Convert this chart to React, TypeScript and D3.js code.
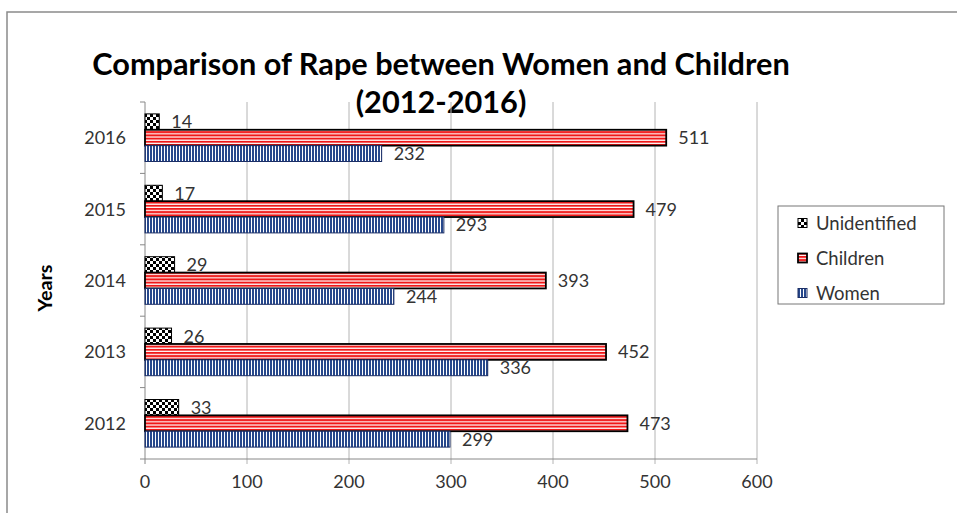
import React from "react";
import * as d3 from "d3";

const years = ["2016", "2015", "2014", "2013", "2012"];
const seriesNames = ["Unidentified", "Children", "Women"];
const unidentified = [14, 17, 29, 26, 33];
const children = [511, 479, 393, 452, 473];
const women = [232, 293, 244, 336, 299];
const xTicks = [0, 100, 200, 300, 400, 500, 600];
const legendOrder = ["Unidentified", "Children", "Women"];

const W = 957;
const H = 513;
const FONT = "Lato, 'Open Sans', sans-serif";

export default function App() {
  const left = 145;
  const right = 757;
  const top = 102;
  const bottom = 459;
  const x = d3.scaleLinear().domain([0, 600]).range([left, right]);
  const y = d3.scaleBand<string>().domain(years).range([top, bottom]).padding(0);
  const inner = d3
    .scaleBand<string>()
    .domain(seriesNames)
    .range([0, y.bandwidth()])
    .paddingInner(0)
    .paddingOuter(0.75);

  const values: Record<string, number[]> = {
    Unidentified: unidentified,
    Children: children,
    Women: women,
  };
  const fills: Record<string, string> = {
    Unidentified: "url(#checker)",
    Children: "url(#redstripes)",
    Women: "url(#bluestripes)",
  };
  const strokes: Record<string, string> = {
    Unidentified: "#000",
    Children: "#000",
    Women: "#1c2f66",
  };
  const strokeW: Record<string, number> = {
    Unidentified: 1,
    Children: 1.8,
    Women: 1,
  };

  const bands = years.map((yr) => y(yr) as number);
  const boundaries = [...bands, bottom];

  return (
    <svg
      width={W}
      height={H}
      style={{ position: "absolute", left: 0, top: 0, background: "#fff" }}
      fontFamily={FONT}
    >
      <defs>
        <pattern id="checker" width={6} height={6} patternUnits="userSpaceOnUse">
          <rect width={6} height={6} fill="#fff" />
          <rect x={0} y={0} width={3} height={3} fill="#000" />
          <rect x={3} y={3} width={3} height={3} fill="#000" />
        </pattern>
        <pattern id="redstripes" width={4} height={3.2} patternUnits="userSpaceOnUse">
          <rect width={4} height={3.2} fill="#fff" />
          <rect x={0} y={0} width={4} height={2} fill="#f01818" />
        </pattern>
        <pattern id="bluestripes" width={3} height={4} patternUnits="userSpaceOnUse">
          <rect width={3} height={4} fill="#fff" />
          <rect x={0} y={0} width={2} height={4} fill="#27488c" />
        </pattern>
      </defs>

      {/* outer border */}
      <rect x={7} y={12} width={W} height={H} fill="none" stroke="#8a8a8a" strokeWidth={1.5} />

      {/* title */}
      <text x={441} y={75} textAnchor="middle" fontWeight="bold" fontSize={30.7} fill="#000">
        Comparison of Rape between Women and Children
      </text>
      <text x={441} y={113} textAnchor="middle" fontWeight="bold" fontSize={30.7} fill="#000">
        (2012-2016)
      </text>

      {/* gridlines */}
      {xTicks.slice(1).map((t) => (
        <line key={"g" + t} x1={x(t)} x2={x(t)} y1={top} y2={bottom + 5} stroke="#b4b4b4" strokeWidth={1} />
      ))}
      <line x1={left} x2={left} y1={bottom} y2={bottom + 5} stroke="#888" />

      {/* axes */}
      <line x1={left} x2={right} y1={bottom} y2={bottom} stroke="#888" strokeWidth={1} />
      <line x1={left} x2={left} y1={top} y2={bottom} stroke="#888" strokeWidth={1} />
      {boundaries.map((b, i) => (
        <line key={"yt" + i} x1={left - 5} x2={left} y1={b} y2={b} stroke="#888" />
      ))}

      {/* x tick labels */}
      {xTicks.map((t) => (
        <text key={"xt" + t} x={x(t)} y={488} textAnchor="middle" fontSize={18} fill="#333">
          {t}
        </text>
      ))}

      {/* y tick labels */}
      {years.map((yr) => (
        <text
          key={"yl" + yr}
          x={126}
          y={(y(yr) as number) + y.bandwidth() / 2 + 6.5}
          textAnchor="end"
          fontSize={18}
          fill="#333"
        >
          {yr}
        </text>
      ))}

      {/* y axis title */}
      <text
        transform={`translate(52, 288) rotate(-90)`}
        textAnchor="middle"
        fontWeight="bold"
        fontSize={19}
        textLength={47}
        lengthAdjust="spacingAndGlyphs"
        fill="#000"
      >
        Years
      </text>

      {/* bars */}
      {seriesNames.map((s) =>
        years.map((yr, i) => {
          const v = values[s][i];
          const by = (y(yr) as number) + (inner(s) as number);
          const bh = inner.bandwidth();
          return (
            <g key={s + yr}>
              <rect
                x={x(0)}
                y={by}
                width={x(v) - x(0)}
                height={bh}
                fill={fills[s]}
                stroke={strokes[s]}
                strokeWidth={strokeW[s]}
              />
              <text x={x(v) + 12} y={by + bh / 2 + 6.5} fontSize={18} fill="#333">
                {v}
              </text>
            </g>
          );
        })
      )}

      {/* legend */}
      <rect x={778} y={206} width={166} height={98} fill="#fff" stroke="#777" strokeWidth={1} />
      {legendOrder.map((s, i) => {
        const cy = 223 + i * 35;
        return (
          <g key={"lg" + s}>
            <rect
              x={798}
              y={cy - 4.5}
              width={9}
              height={9}
              fill={fills[s]}
              stroke={strokes[s]}
              strokeWidth={strokeW[s]}
            />
            <text x={816} y={cy + 6.5} fontSize={18.5} fill="#333">
              {s}
            </text>
          </g>
        );
      })}
    </svg>
  );
}
